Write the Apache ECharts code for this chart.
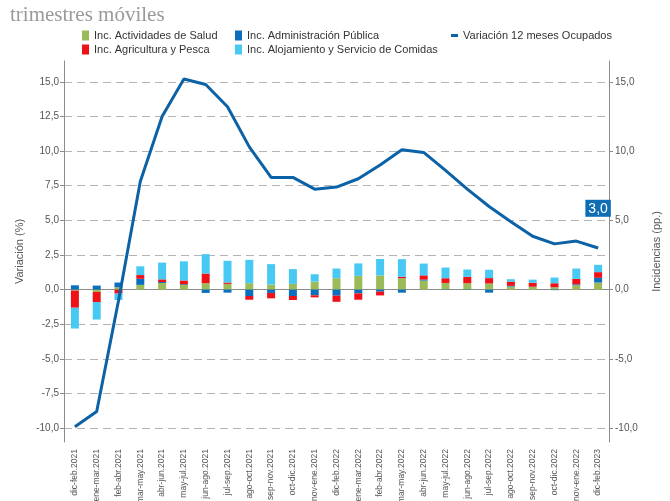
<!DOCTYPE html>
<html lang="es">
<head>
    <meta charset="UTF-8">
    <title>trimestres móviles</title>
</head>
<script src="https://cdn.jsdelivr.net/npm/echarts@6.0.0/dist/echarts.min.js"></script>
<body style="margin:0;">
    <div id="main" style="width: 670px;height:501px;"></div>
    <script type="text/javascript">
       // datos
       var categories = ['dic-feb.2021','ene-mar.2021','feb-abr.2021','mar-may.2021','abr-jun.2021','may-jul.2021',
           'jun-ago.2021','jul-sep.2021','ago-oct.2021','sep-nov.2021','oct-dic.2021','nov-ene.2021',
           'dic-feb.2022','ene-mar.2022','feb-abr.2022','mar-may.2022','abr-jun.2022','may-jul.2022',
           'jun-ago.2022','jul-sep.2022','ago-oct.2022','sep-nov.2022','oct-dic.2022','nov-ene.2022','dic-feb.2023'];

       var salud = [-0.07,-0.17,0.17,0.34,0.48,0.34,0.46,0.41,0.46,0.36,0.41,0.58,0.82,0.99,1.02,0.82,0.65,0.48,0.46,0.44,0.22,0.19,0.17,0.31,0.51];
       var admin = [0.31,0.29,0.34,0.44,0.07,0.05,-0.24,-0.22,-0.46,-0.24,-0.46,-0.41,-0.44,-0.27,-0.15,-0.22,0.07,-0.03,-0.03,-0.22,0.05,0.02,-0.04,0.07,0.34];
       var agri = [-1.24,-0.73,-0.29,0.27,0.19,0.27,0.70,0.10,-0.27,-0.39,-0.29,-0.15,-0.44,-0.46,-0.27,0.10,0.31,0.34,0.46,0.39,0.31,0.29,0.29,0.39,0.41];
       var aloj = [-1.50,-1.26,-0.46,0.63,1.21,1.38,1.40,1.57,1.69,1.48,1.07,0.53,0.70,0.90,1.19,1.28,0.85,0.77,0.53,0.60,0.17,0.22,0.41,0.75,0.53];
       var variacion = [-9.9,-8.8,-0.8,7.8,12.5,15.2,14.8,13.2,10.3,8.1,8.1,7.25,7.4,8.0,9.0,10.1,9.9,8.6,7.25,6.0,4.9,3.85,3.3,3.5,3.0];

       var leftTicks = [-10,-7.5,-5,-2.5,0,2.5,5,7.5,10,12.5,15];
       var rightTicks = [-10,-5,0,5,10,15];

       var font = 'Liberation Sans, Arial, sans-serif';
       var axisGray = '#8c8c8c';

       function fmt(v) {
           return Number(v).toFixed(1).replace('.', ',');
       }

       // solo el ultimo punto lleva etiqueta
       var lineData = [];
       for (var i = 0; i < variacion.length; i++) {
           if (i == variacion.length - 1) {
               lineData.push({
                   value: variacion[i],
                   label: {
                       show: true,
                       position: 'top',
                       distance: 31,
                       formatter: function (p) { return fmt(p.value); },
                       color: '#fff',
                       backgroundColor: '#0f6db4',
                       padding: [2, 3, 1, 3],
                       fontSize: 14,
                       fontFamily: font
                   }
               });
           } else {
               lineData.push(variacion[i]);
           }
       }

       var myChart = echarts.init(document.getElementById('main'));

       var option = {
           animation: false,
           textStyle: { fontFamily: font },
           title: {
               text: 'trimestres móviles',
               left: 5,
               top: 0,
               textStyle: {
                   fontFamily: 'Liberation Serif, DejaVu Serif, serif',
                   fontWeight: 'normal',
                   fontSize: 21,
                   color: '#9a9a9a'
               }
           },
           legend: [{
               data: ['Inc. Actividades de Salud', 'Inc. Agricultura y Pesca'],
               orient: 'vertical', left: 77, top: 25, itemGap: 3,
               itemWidth: 7, itemHeight: 10, icon: 'rect',
               textStyle: { fontSize: 11, color: '#333', fontFamily: font }
           }, {
               data: ['Inc. Administración Pública', 'Inc. Alojamiento y Servicio de Comidas'],
               orient: 'vertical', left: 230, top: 25, itemGap: 3,
               itemWidth: 7, itemHeight: 10, icon: 'rect',
               textStyle: { fontSize: 11, color: '#333', fontFamily: font }
           }, {
               data: ['Variación 12 meses Ocupados'],
               orient: 'vertical', left: 446, top: 25,
               itemWidth: 7, itemHeight: 3, icon: 'rect',
               textStyle: { fontSize: 11, color: '#333', fontFamily: font }
           }],
           grid: {
               left: 64, right: 61, top: 61, bottom: 59,
               outerBoundsMode: 'none'
           },
           xAxis: {
               type: 'category',
               data: categories,
               axisLine: { lineStyle: { color: axisGray } },
               axisTick: { alignWithLabel: true, length: 5, lineStyle: { color: axisGray } },
               axisLabel: { rotate: 90, interval: 0, fontSize: 8.5, color: '#555', margin: 7 }
           },
           yAxis: [{
               type: 'value',
               min: -11, max: 16.5,
               name: 'Variación (%)',
               nameLocation: 'middle',
               nameGap: 38,
               nameRotate: 90,
               nameTextStyle: { fontSize: 11, color: '#555' },
               axisLine: { show: true, lineStyle: { color: axisGray } },
               axisTick: { show: true, length: 4, customValues: leftTicks, lineStyle: { color: axisGray } },
               axisLabel: { customValues: leftTicks, formatter: fmt, fontSize: 10, color: '#555', margin: 5 },
               splitLine: { show: true, lineStyle: { color: '#b4b4b4', type: [8, 5] } }
           }, {
               type: 'value',
               position: 'right',
               min: -11, max: 16.5,
               name: 'Incidencias (pp.)',
               nameLocation: 'middle',
               nameGap: 42,
               nameRotate: 90,
               nameTextStyle: { fontSize: 11, color: '#555' },
               axisLine: { show: true, lineStyle: { color: axisGray } },
               axisTick: { show: true, length: 4, customValues: rightTicks, lineStyle: { color: axisGray } },
               axisLabel: { customValues: rightTicks, formatter: fmt, fontSize: 10, color: '#555', margin: 6 },
               splitLine: { show: false }
           }],
           series: [{
               name: 'Inc. Actividades de Salud', type: 'bar', stack: 'inc', yAxisIndex: 1,
               barWidth: 8, itemStyle: { color: '#9bbb59' }, data: salud
           }, {
               name: 'Inc. Administración Pública', type: 'bar', stack: 'inc', yAxisIndex: 1,
               barWidth: 8, itemStyle: { color: '#0a6fbd' }, data: admin
           }, {
               name: 'Inc. Agricultura y Pesca', type: 'bar', stack: 'inc', yAxisIndex: 1,
               barWidth: 8, itemStyle: { color: '#ee1218' }, data: agri
           }, {
               name: 'Inc. Alojamiento y Servicio de Comidas', type: 'bar', stack: 'inc', yAxisIndex: 1,
               barWidth: 8, itemStyle: { color: '#48c9f4' }, data: aloj
           }, {
               name: 'Variación 12 meses Ocupados', type: 'line', yAxisIndex: 0,
               symbol: 'circle', symbolSize: 0.5, showSymbol: true, z: 5,
               lineStyle: { color: '#0b62a6', width: 3 },
               itemStyle: { color: '#0b62a6' },
               emphasis: { disabled: true },
               data: lineData
           }]
       };

       myChart.setOption(option);
    </script>
</body>
</html>
